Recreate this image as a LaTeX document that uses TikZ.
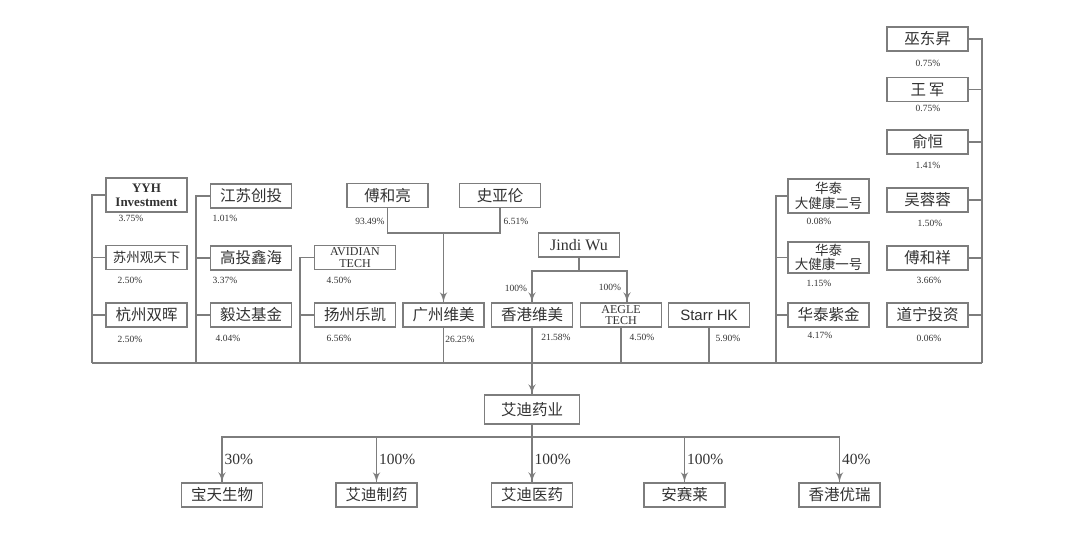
\documentclass[tikz,border=0pt]{standalone}
\usepackage{fontspec}
\setmainfont{Liberation Serif}
\newfontfamily\cjk{Noto Sans CJK SC}
\newfontfamily\arial{Liberation Sans}
\usepackage{tikz}
\usetikzlibrary{arrows}
\usetikzlibrary{decorations.markings}
\usetikzlibrary{positioning}
\definecolor{linegray}{RGB}{125,125,125}
\definecolor{inkgray}{RGB}{50,50,50}
\tikzset{box/.style = {draw=linegray, line width=1.3pt, minimum width=81pt,
                       minimum height=24pt, inner sep=1pt, text=inkgray,
                       font=\cjk\fontsize{15.5}{17}\selectfont},
         tallbox/.style = {box, minimum height=34pt, align=center},
         pct/.style = {text=inkgray, inner sep=0pt, font=\fontsize{9.5}{10}\selectfont},
         bigpct/.style = {text=inkgray, inner sep=2pt, font=\fontsize{15.5}{16}\selectfont},
         link/.style = {draw=linegray, line width=1.3pt},
         arr/.style = {link, decoration={markings,
                                         mark=at position 1 with {\arrow[scale=1.5]{latex'}}},
                       postaction={decorate}}}

\begin{document}
\begin{tikzpicture}[x=1pt, y=-1pt]
    \useasboundingbox (0, 0) rectangle (1080, 534);
    \coordinate (busA) at (92, 363);
    \coordinate (busB) at (196, 363);
    \coordinate (busC) at (300, 363);
    \coordinate (busH) at (776, 363);
    \coordinate (busR) at (982, 363);
    \draw [link] (busA) -- (busR);

    \node [tallbox, font=\bfseries\fontsize{13}{14}\selectfont] (yyh) at (146.5, 195) {YYH\\Investment};
    \node [box, font=\cjk\fontsize{13.5}{15}\selectfont] (szgtx) at (146.5, 257.5) {苏州观天下};
    \node [box] (hzsh) at (146.5, 315) {杭州双晖};
    \node [pct] (p-yyh) at (131, 218) {3.75\%};
    \node [pct] (p-szgtx) at (130, 280) {2.50\%};
    \node [pct] (p-hzsh) at (130, 339) {2.50\%};
    \draw [link] (yyh.west) -| (busA);
    \draw [link] (szgtx.west) -- (szgtx.west -| busA);
    \draw [link] (hzsh.west) -- (hzsh.west -| busA);

    \node [box] (jsct) at (251, 196) {江苏创投};
    \node [box] (gtxh) at (251, 258) {高投鑫海};
    \node [box] (ydjj) at (251, 315) {毅达基金};
    \node [pct] (p-jsct) at (225, 218) {1.01\%};
    \node [pct] (p-gtxh) at (225, 280) {3.37\%};
    \node [pct] (p-ydjj) at (228, 338) {4.04\%};
    \draw [link] (jsct.west) -| (busB);
    \draw [link] (gtxh.west) -- (gtxh.west -| busB);
    \draw [link] (ydjj.west) -- (ydjj.west -| busB);

    \node [box, align=center, font=\fontsize{12}{11.5}\selectfont] (avidian) at (355, 257.5) {AVIDIAN\\TECH};
    \node [box] (yzlk) at (355, 315) {扬州乐凯};
    \node [pct] (p-avidian) at (339, 280) {4.50\%};
    \node [pct] (p-yzlk) at (339, 338) {6.56\%};
    \draw [link] (avidian.west) -| (busC);
    \draw [link] (yzlk.west) -- (yzlk.west -| busC);

    \node [box] (fhl) at (387.5, 195.5) {傅和亮};
    \node [box] (syl) at (500, 195.5) {史亚伦};
    \node [pct] (p-fhl) at (370, 221) {93.49\%};
    \node [pct] (p-syl) at (516, 221) {6.51\%};
    \coordinate (fhjoin) at (443.5, 233);
    \node [box] (gzwm) at (443.5, 315) {广州维美};
    \draw [link] (fhl.south) |- (fhjoin) -| (syl.south);
    \draw [arr] (fhjoin) -- (gzwm.north);
    \draw [link] (gzwm.south) -- (gzwm.south |- busA);
    \node [pct] (p-gzwm) at (460, 339) {26.25\%};

    \node [box, font=\fontsize{16}{17}\selectfont] (jdw) at (579, 245) {Jindi Wu};
    \coordinate (jdjoin) at (579, 271);
    \node [box] (hkwm) at (532, 315) {香港维美};
    \node [box, align=center, font=\fontsize{12}{11.5}\selectfont] (aegle) at (621, 315) {AEGLE\\TECH};
    \node [box, font=\arial\fontsize{15}{16}\selectfont] (starr) at (709, 315) {Starr HK};
    \draw [link] (jdw.south) -- (jdjoin);
    \draw [arr] (jdjoin) -| (hkwm.north);
    \draw [arr] (jdjoin) -| ([xshift=6pt]aegle.north);
    \node [pct] (p-jd1) at (516, 288) {100\%};
    \node [pct] (p-jd2) at (610, 287) {100\%};
    \node [pct] (p-hkwm) at (556, 337) {21.58\%};
    \node [pct] (p-aegle) at (642, 337) {4.50\%};
    \node [pct] (p-starr) at (728, 338) {5.90\%};
    \draw [link] (aegle.south) -- (aegle.south |- busA);
    \draw [link] (starr.south) -- (starr.south |- busA);

    \node [tallbox, font=\cjk\fontsize{13.5}{15}\selectfont] (ht2) at (828.5, 196) {华泰\\大健康二号};
    \node [tallbox, minimum height=31pt, font=\cjk\fontsize{13.5}{14.5}\selectfont] (ht1) at (828.5, 257.5) {华泰\\大健康一号};
    \node [box] (htzj) at (828.5, 315) {华泰紫金};
    \node [pct] (p-ht2) at (819, 221) {0.08\%};
    \node [pct] (p-ht1) at (819, 283) {1.15\%};
    \node [pct] (p-htzj) at (820, 335) {4.17\%};
    \draw [link] (ht2.west) -| (busH);
    \draw [link] (ht1.west) -- (ht1.west -| busH);
    \draw [link] (htzj.west) -- (htzj.west -| busH);

    \node [box] (wds) at (927.5, 39) {巫东昇};
    \node [box] (wj) at (927.5, 89.5) {王\,军};
    \node [box] (yh) at (927.5, 142) {俞恒};
    \node [box] (wrr) at (927.5, 200) {吴蓉蓉};
    \node [box] (fhx) at (927.5, 258) {傅和祥};
    \node [box] (dntz) at (927.5, 315) {道宁投资};
    \node [pct] (p-wds) at (928, 63) {0.75\%};
    \node [pct] (p-wj) at (928, 108) {0.75\%};
    \node [pct] (p-yh) at (928, 165) {1.41\%};
    \node [pct] (p-wrr) at (930, 223) {1.50\%};
    \node [pct] (p-fhx) at (929, 280) {3.66\%};
    \node [pct] (p-dntz) at (929, 338) {0.06\%};
    \draw [link] (wds.east) -| (busR);
    \draw [link] (wj.east) -- (wj.east -| busR);
    \draw [link] (yh.east) -- (yh.east -| busR);
    \draw [link] (wrr.east) -- (wrr.east -| busR);
    \draw [link] (fhx.east) -- (fhx.east -| busR);
    \draw [link] (dntz.east) -- (dntz.east -| busR);

    \node [box, minimum width=95pt, minimum height=29pt] (adyy) at (532, 409.5) {艾迪药业};
    \draw [arr] (hkwm.south) -- (adyy.north);
    \coordinate (adjoin) at (532, 437);
    \draw [link] (adyy.south) -- (adjoin);
    \node [box] (btsw) at (222, 495) {宝天生物};
    \node [box] (adzy) at (376.5, 495) {艾迪制药};
    \node [box] (adyiy) at (532, 495) {艾迪医药};
    \node [box] (asl) at (684.5, 495) {安赛莱};
    \node [box] (hkyr) at (839.5, 495) {香港优瑞};
    \draw [arr] (adjoin) -| (btsw.north) node [bigpct, pos=0.75, right] (p-btsw) {30\%};
    \draw [arr] (adjoin) -| (adzy.north) node [bigpct, pos=0.75, right] (p-adzy) {100\%};
    \draw [arr] (adjoin) -| (adyiy.north) node [bigpct, pos=0.75, right] (p-adyiy) {100\%};
    \draw [arr] (adjoin) -| (asl.north) node [bigpct, pos=0.75, right] (p-asl) {100\%};
    \draw [arr] (adjoin) -| (hkyr.north) node [bigpct, pos=0.75, right] (p-hkyr) {40\%};
\end{tikzpicture}
\end{document}
